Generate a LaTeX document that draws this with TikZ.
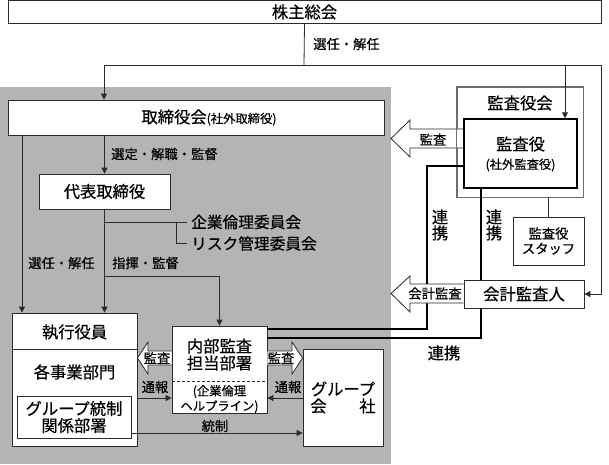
\documentclass[tikz,border=0pt]{standalone}
\usepackage{fontspec}
\setmainfont{Noto Sans CJK JP}[FakeBold=0.5]
\usetikzlibrary{arrows.meta,calc}
\definecolor{bg}{HTML}{B4B4B4}
\definecolor{ln}{HTML}{2A2A2A}
\definecolor{kg}{HTML}{6E6E6E}
\newcommand\fbig{\fontsize{16.3}{19}\selectfont}
\newcommand\fmid{\fontsize{13.3}{16}\selectfont}
\newcommand\fsm{\fontsize{12.3}{15}\selectfont}
\newcommand\fcom{\fontsize{15.7}{19}\selectfont}
\tikzset{
  box/.style={draw=ln, fill=white, line width=0.8pt, inner sep=0pt},
  txt/.style={inner sep=0pt, font=\fbig},
  lbl/.style={inner sep=0pt, font=\fmid},
  con/.style={draw=ln, line width=0.8pt},
  arr/.style={con, -{Triangle[length=6pt,width=6pt]}},
  link/.style={draw=black, line width=1.8pt},
  hollow/.style={draw=ln, fill=white, line width=0.8pt, line join=miter},
}
\begin{document}
\begin{tikzpicture}[x=1pt, y=-1pt]
\useasboundingbox (0,0) rectangle (609,464);
\fill[white] (0,0) rectangle (609,464);
% gray area
\fill[bg] (0,87) rectangle (391,464);

% ---- boxes ----
\node[box, minimum width=593pt, minimum height=23pt, font=\fbig] (kabu) at (304.5,12) {株主総会};
\node[box, minimum width=376pt, minimum height=35pt] (tori) at (196,117.5) {};
\node[txt] (toritxt) at (209,117.5) {取締役会{\fsm (社外取締役)}};
\node[box, minimum width=131pt, minimum height=35pt, font=\fbig] (daihyo) at (104.5,191.5) {代表取締役};

\node[box, minimum width=125pt, minimum height=133pt] (shikko) at (74.5,379.5) {};
\draw[con] (shikko.west |- 0,349) coordinate (dvl) -- (shikko.east |- 0,349) coordinate (dvr);
\node[txt] (shikkotxt) at (74.5,332) {執行役員};
\node[txt] (jigyo) at (74.5,372) {各事業部門};
\node[box, minimum width=114pt, minimum height=42pt, font=\fbig, align=center] (group) at (74,417) {グループ統制\\[-2pt]関係部署};

\node[box, minimum width=95pt, minimum height=87pt] (naibu) at (219.5,369.5) {};
\node[txt, align=center] (naibutxt) at (219.5,354.5) {内部監査\\[-2pt]担当部署};
\draw[ln, dashed, line width=0.8pt, dash pattern=on 3pt off 2pt] (naibu.west |- 0,381) -- (naibu.east |- 0,381);
\node[inner sep=0pt, font=\fsm, align=center] (help) at (219.5,399) {(企業倫理\\ヘルプライン)};

\node[box, minimum width=80pt, minimum height=97pt] (gkaisha) at (343,397.5) {};
\node[txt, align=center] (gtxt) at (343,397.5) {グループ\\[-2pt]会　　社};

% audit board
\node[box, draw=kg, minimum width=126pt, minimum height=110pt] (kaigi) at (520,142) {};
\node[txt] (kaigitxt) at (520,103) {監査役会};

% ---- thick links (under arrows) ----
\coordinate (l1a) at (427,166);
\coordinate (l1b) at (427,329);
\coordinate (l3a) at (481,338);
\draw[link] (464,166) -- (l1a) -- (l1b) -- (naibu.east |- l1b);
\node[box, minimum width=120pt, minimum height=28pt, font=\fbig] (kaikei) at (524,294) {会計監査人};
\draw[link] (kaikei.south -| l3a) -- (l3a) -- (naibu.east |- l3a);

% ---- hollow arrows ----
\draw[hollow] (464,129) -- (410,129) -- (410,120) -- (391,138.5) -- (410,157) -- (410,148) -- (464,148);
\node[lbl] (kansa1) at (433,139.5) {監査};
\draw[hollow] (kaikei.west |- 0,284) -- (410,284) -- (410,276) -- (391,293.5) -- (410,312) -- (410,303) -- (kaikei.west |- 0,303);
\node[lbl] (kaikeikansa) at (435,293.5) {会計監査};
\draw[kg, line width=0.8pt] (kaigi.north west) rectangle (kaigi.south east);

\node[box, line width=1.5pt, draw=black, minimum width=113pt, minimum height=69pt] (kansayaku) at (520.5,153.5) {};
\node[txt] (kytxt) at (520.5,144) {監査役};
\node[inner sep=0pt, font=\fsm] (kytxt2) at (520.5,165) {(社外監査役)};
\draw[link] (464,166) -- (l1a);
\draw[link] (kansayaku.south -| l3a) -- (kaikei.north -| l3a);

\node[box, minimum width=71pt, minimum height=48pt, font=\fmid, align=center] (staff) at (548.5,241) {監査役\\[-1pt]スタッフ};
\draw[con] (kaigi.south -| staff.north) -- (staff.north);

% naibu hollow arrows
\draw[hollow] (naibu.west |- 0,351) -- (148,351) -- (148,342) -- (shikko.east |- 0,358) -- (148,374) -- (148,365) -- (naibu.west |- 0,365);
\node[lbl] (kansa2) at (157,358) {監査};
\draw[hollow] (naibu.east |- 0,351) -- (292,351) -- (292,342) -- (gkaisha.west |- 0,358) -- (292,374) -- (292,365) -- (naibu.east |- 0,365);
\node[lbl] (kansa3) at (281,358) {監査};

% ---- connectors ----
\coordinate (j1) at (304,65);
\coordinate (rr) at (601,65);
\draw[con] (kabu.south) -- (j1);
\draw[arr] (j1) -| (tori.north -| 104,0);
\draw[arr] (j1) -| (kansayaku.north -| 565,0);
\draw[arr] (j1) -- (rr) |- (kaikei.east);
\node[lbl, anchor=west] (l_senin1) at (313,44) {選任・解任};

\draw[arr] (tori.south -| 22,0) -- (shikko.north -| 22,0);
\draw[arr] (tori.south -| daihyo.north) -- (daihyo.north);
\node[lbl, anchor=west] (l_sentei) at (111,154) {選定・解職・監督};

\coordinate (b1) at (105,222);
\coordinate (b2) at (105,276);
\draw[arr] (daihyo.south) -- (shikko.north -| daihyo.south);
\draw[con] (b1) -- (187,222);
\draw[con] (176,222) -- (176,243.5) -- (187,243.5);
\node[inner sep=0pt, font=\fcom, anchor=west] (kigyo) at (191,222) {企業倫理委員会};
\node[inner sep=0pt, font=\fcom, anchor=west] (risk) at (191,243.5) {リスク管理委員会};
\node[lbl, anchor=west] (l_shiki) at (112,263) {指揮・監督};
\node[lbl, anchor=west] (l_senin2) at (28,263) {選任・解任};
\draw[arr] (b2) -| (naibu.north);

\draw[arr] (shikko.east |- 0,398) -- (naibu.west |- 0,398);
\node[lbl] (tsuho1) at (155,387) {通報};
\draw[arr] (gkaisha.west |- 0,398) -- (naibu.east |- 0,398);
\node[lbl] (tsuho2) at (288,387) {通報};
\draw[arr] (group.east |- 0,433) -- (gkaisha.west |- 0,433);
\node[lbl] (tosei) at (215,426) {統制};

% 連携 labels
\node[inner sep=0pt, font=\fbig, align=center] (renkei1) at (440,225) {連\\[-3pt]携};
\node[inner sep=0pt, font=\fbig, align=center] (renkei2) at (494,225) {連\\[-3pt]携};
\node[txt] (renkei3) at (444,353) {連携};
\end{tikzpicture}
\end{document}
